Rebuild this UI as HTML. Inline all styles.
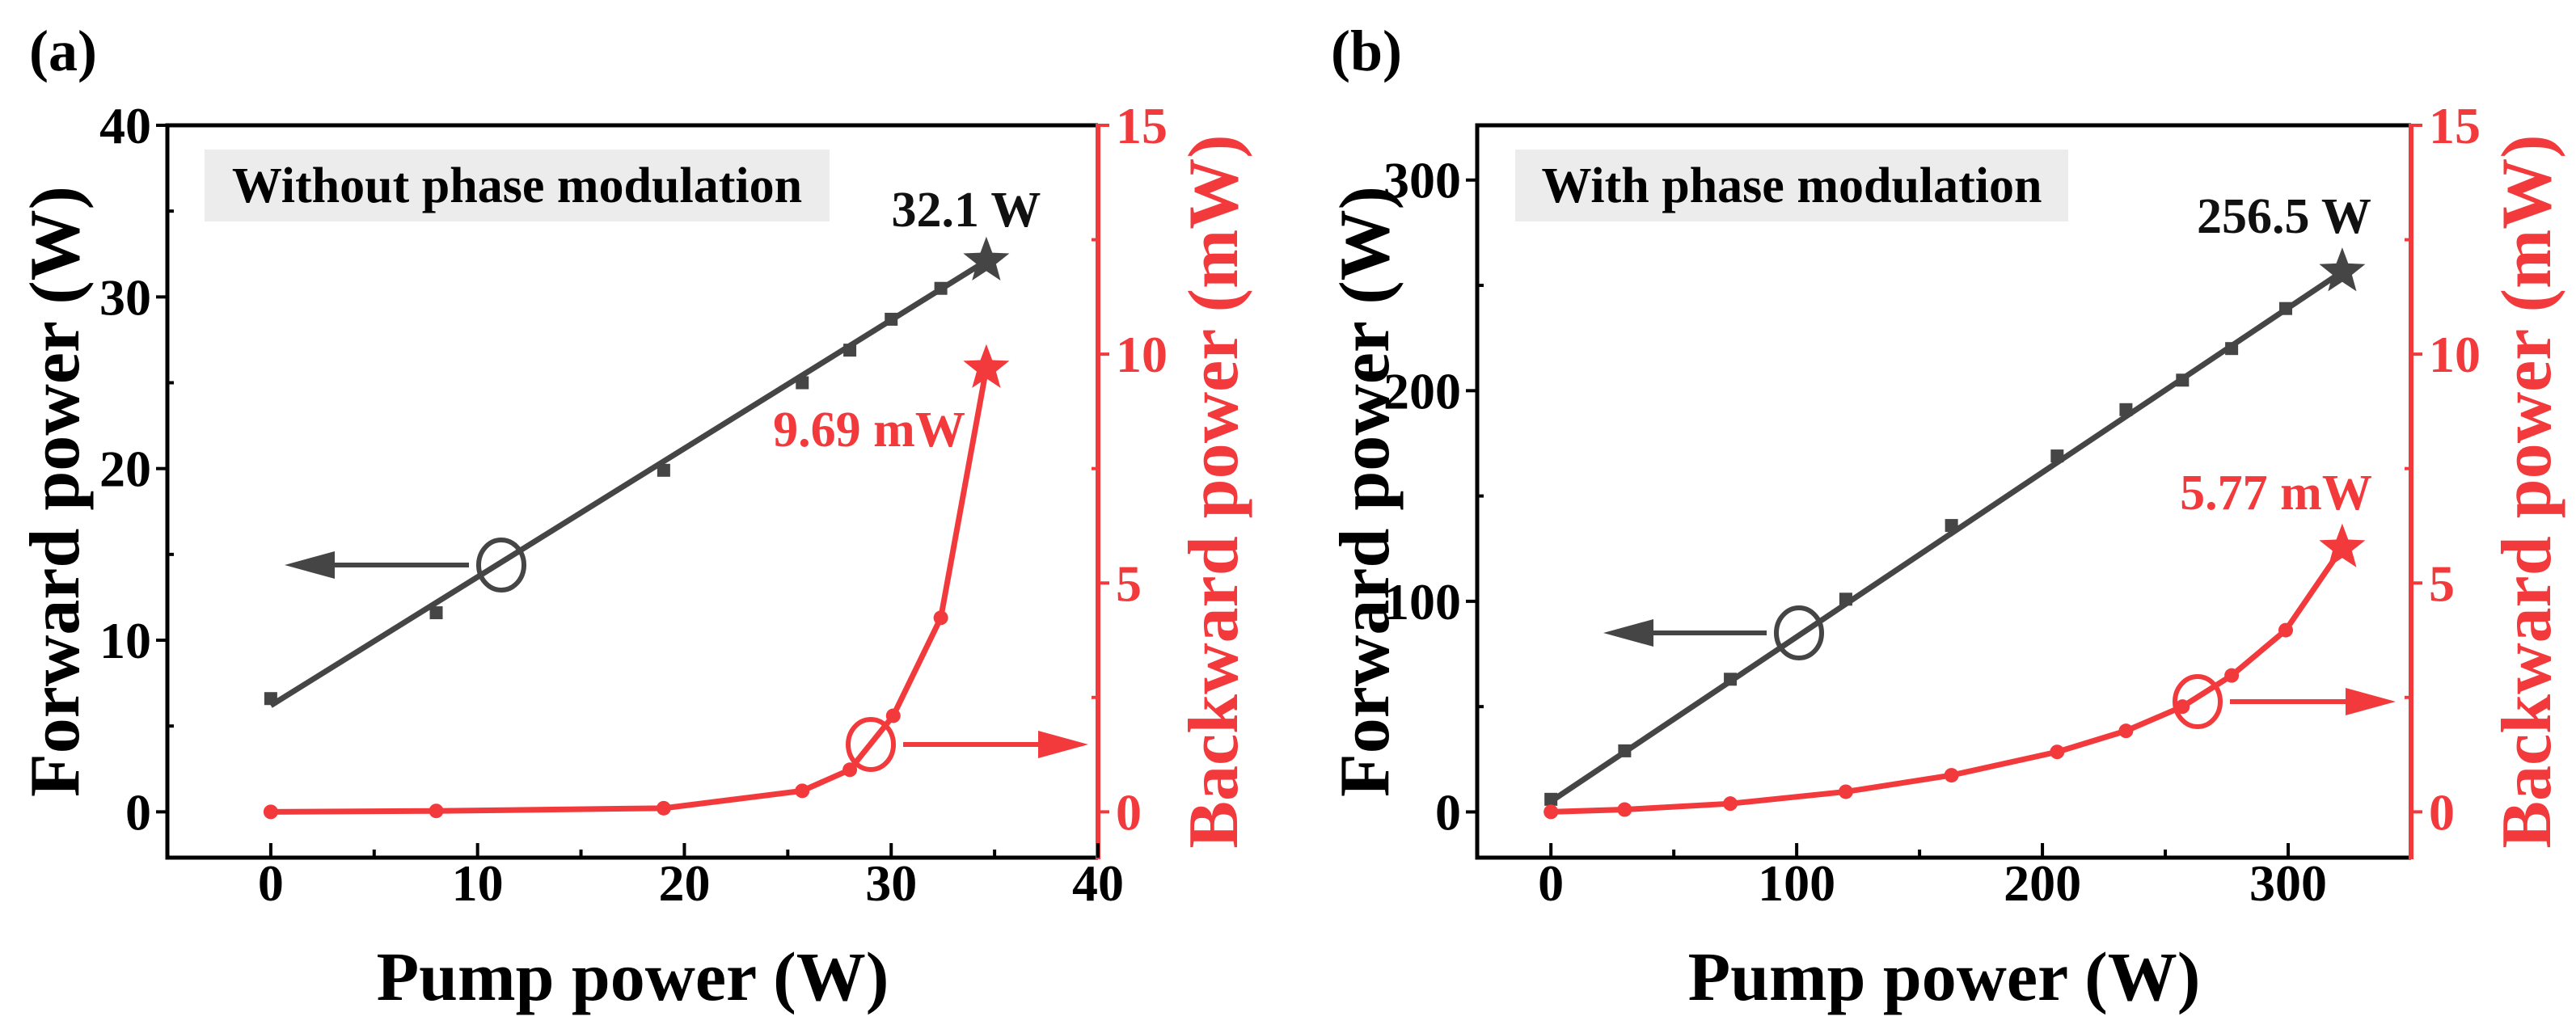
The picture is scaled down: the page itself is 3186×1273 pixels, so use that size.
<!DOCTYPE html>
<html><head><meta charset="utf-8"><style>
html,body{margin:0;padding:0;background:#fff;}
svg{display:block;}
svg text{font-family:"Liberation Serif","Times New Roman",serif;font-weight:bold;}
</style></head><body>
<svg id="fig" width="3186" height="1273" viewBox="0 0 3186 1273"></svg>
<script>
// Panel (a) data
const aPump = [0, 8, 19, 25.7, 28, 30, 32.4];
const aForward = [6.6, 11.6, 19.9, 25.0, 26.9, 28.7, 30.5];
const aBackPump = [0, 8, 19, 25.7, 28, 30.1, 32.4];
const aBackward = [0.0, 0.02, 0.08, 0.46, 0.92, 2.1, 4.24];
const aStarPump = 34.6, aStarForward = 32.1, aStarBackward = 9.69;
// Panel (b) data
const bPump = [0, 30, 73, 120, 163, 206, 234, 257, 277, 299];
const bForward = [6, 29, 63, 101, 136, 169, 191, 205, 220, 239];
const bBackward = [0.0, 0.05, 0.18, 0.44, 0.8, 1.31, 1.77, 2.3, 2.98, 3.97];
const bStarPump = 322, bStarForward = 256.5, bStarBackward = 5.77;
const aXTicks = [0, 10, 20, 30, 40];
const aYTicks = [0, 10, 20, 30, 40];
const bXTicks = [0, 100, 200, 300];
const bYTicks = [0, 100, 200, 300];
const rTicks = [0, 5, 10, 15];

const NS = "http://www.w3.org/2000/svg";
const svg = document.getElementById('fig');
const RED = "#f23a3c", BLK = "#454545";
const FONT = '"Liberation Serif", "Times New Roman", serif';
function el(tag, attrs, parent, text) {
  const e = document.createElementNS(NS, tag);
  for (const k in attrs) e.setAttribute(k, attrs[k]);
  if (tag === 'text') { e.setAttribute('font-family', FONT); e.setAttribute('font-weight', 'bold'); }
  if (text !== undefined) e.textContent = text;
  (parent || svg).appendChild(e);
  return e;
}
function starPts(cx, cy, R) {
  const r = R * 0.42; let p = [];
  for (let i = 0; i < 10; i++) {
    const ang = -Math.PI / 2 + i * Math.PI / 5, rr = i % 2 ? r : R;
    p.push((cx + rr * Math.cos(ang)).toFixed(1) + "," + (cy + rr * Math.sin(ang)).toFixed(1));
  }
  return p.join(" ");
}
function panel(cfg) {
  const g = el('g', {});
  
  
  const L = cfg.L, R = cfg.R, T = 155, B = 1061;
  const sx = v => L + (v - cfg.xMin) / (cfg.xMax - cfg.xMin) * (R - L);
  const sy = v => B - (v - cfg.yMin) / (cfg.yMax - cfg.yMin) * (B - T);
  const sr = v => B - (v - (-1)) / 16 * (B - T);
  const bx = el('rect', {x: cfg.box[0], y: 185, width: cfg.box[1] - cfg.box[0], height: 89, fill: "#ececec"}, g);
  
  
  const bt = el('text', {x: (cfg.box[0] + cfg.box[1]) / 2, y: 250, 'font-size': 62, 'text-anchor': 'middle', fill: '#000'}, g, cfg.boxText);
  
  
  const ax = el('path', {d: `M${R},${T} L${L},${T} L${L},${B} L${R},${B}`, fill: 'none', stroke: '#000', 'stroke-width': 5}, g);
  
  
  const ra = el('line', {x1: R, y1: T - 2, x2: R, y2: B + 2, stroke: RED, 'stroke-width': 6}, g);
  
  
  cfg.xTicks.forEach(v => {
    el('line', {x1: sx(v), y1: B, x2: sx(v), y2: B - 18, stroke: '#000', 'stroke-width': 4}, g);
    const m = v + (cfg.xTicks[1] - cfg.xTicks[0]) / 2;
    if (m < cfg.xMax) el('line', {x1: sx(m), y1: B, x2: sx(m), y2: B - 10, stroke: '#000', 'stroke-width': 4}, g);
    const t = el('text', {x: sx(v), y: B + 53, 'font-size': 64, 'text-anchor': 'middle'}, g, v);
    
    
  });
  cfg.yTicks.forEach(v => {
    el('line', {x1: L, y1: sy(v), x2: L - 14, y2: sy(v), stroke: '#000', 'stroke-width': 4}, g);
    const m = v + (cfg.yTicks[1] - cfg.yTicks[0]) / 2;
    if (m < cfg.yMax) el('line', {x1: L, y1: sy(m), x2: L + 8, y2: sy(m), stroke: '#000', 'stroke-width': 4}, g);
    const t = el('text', {x: L - 20, y: sy(v) + 22, 'font-size': 64, 'text-anchor': 'end'}, g, v);
    
    
  });
  rTicks.forEach(v => {
    el('line', {x1: R, y1: sr(v), x2: R + 14, y2: sr(v), stroke: RED, 'stroke-width': 4}, g);
    if (v + 2.5 < 15) el('line', {x1: R, y1: sr(v + 2.5), x2: R - 8, y2: sr(v + 2.5), stroke: RED, 'stroke-width': 4}, g);
    const t = el('text', {x: R + 22, y: sr(v) + 22, 'font-size': 64, fill: RED}, g, v);
    
    
  });
  const xt = el('text', {x: (L + R) / 2, y: 1237, 'font-size': 86, 'text-anchor': 'middle'}, g, 'Pump power (W)');
  
  
  const yl = el('text', {x: 0, y: 0, 'font-size': 88, 'text-anchor': 'middle', transform: `translate(${L - 110},608) rotate(-90)`}, g, 'Forward power (W)');
  
  
  const yr = el('text', {x: 0, y: 0, 'font-size': 88, 'text-anchor': 'middle', fill: RED, transform: `translate(${R + 172},608) rotate(-90)`}, g, 'Backward power (mW)');
  
  
  const pl = el('text', {x: cfg.lblX, y: 87, 'font-size': 72}, g, cfg.lbl);
  
  
  const fl = el('line', {x1: sx(0), y1: sy(cfg.fitY0), x2: sx(cfg.starX), y2: sy(cfg.starF), stroke: BLK, 'stroke-width': 7}, g);
  
  
  cfg.fx.forEach((x, i) => {
    const m = el('rect', {x: sx(x) - 8, y: sy(cfg.fy[i]) - 8, width: 16, height: 16, fill: BLK}, g);
    
    
  });
  const s1 = el('polygon', {points: starPts(sx(cfg.starX), sy(cfg.starF), 30), fill: BLK}, g);
  
  
  const bp = cfg.bx.map((x, i) => sx(x) + ',' + sr(cfg.by[i])).concat([sx(cfg.starX) + ',' + sr(cfg.starB)]);
  const bl = el('polyline', {points: bp.join(' '), fill: 'none', stroke: RED, 'stroke-width': 7}, g);
  
  
  cfg.bx.forEach((x, i) => {
    const c = el('circle', {cx: sx(x), cy: sr(cfg.by[i]), r: 9, fill: RED}, g);
    
    
  });
  const s2 = el('polygon', {points: starPts(sx(cfg.starX), sr(cfg.starB), 30), fill: RED}, g);
  
  
  const v1 = el('text', {x: cfg.fLbl[0], y: cfg.fLbl[1], 'font-size': 62, 'text-anchor': 'middle', fill: '#111'}, g, cfg.starF + ' W');
  
  
  const v2 = el('text', {x: cfg.bLbl[0], y: cfg.bLbl[1], 'font-size': 62, 'text-anchor': 'middle', fill: RED}, g, cfg.starB + ' mW');
  
  
  function indicator(cx, cy, x2, col, name) {
    const gg = el('g', {}, g);
    
    
    el('ellipse', {cx: cx, cy: cy, rx: 28, ry: 31, fill: 'none', stroke: col, 'stroke-width': 6}, gg);
    const dir = x2 < cx ? -1 : 1;
    const x1 = cx + dir * 40;
    el('line', {x1: x1, y1: cy, x2: x2 - dir * 50, y2: cy, stroke: col, 'stroke-width': 6}, gg);
    el('polygon', {points: `${x2},${cy} ${x2 - dir * 62},${cy - 17} ${x2 - dir * 62},${cy + 17}`, fill: col}, gg);
  }
  indicator(cfg.ind1[0], cfg.ind1[1], cfg.ind1[2], BLK, 'forward-axis-indicator');
  indicator(cfg.ind2[0], cfg.ind2[1], cfg.ind2[2], RED, 'backward-axis-indicator');
}
panel({name: 'panel-a', L: 207, R: 1358, xMin: -5, xMax: 40, yMin: -2.667, yMax: 40,
  xTicks: aXTicks, yTicks: aYTicks, fx: aPump, fy: aForward, bx: aBackPump, by: aBackward,
  starX: aStarPump, starF: aStarForward, starB: aStarBackward, fitY0: 6.2,
  box: [253, 1026], boxText: 'Without phase modulation', lbl: '(a)', lblX: 36,
  fLbl: [1195, 280], bLbl: [1075, 552], ind1: [620, 699, 352], ind2: [1077, 921, 1346]});
panel({name: 'panel-b', L: 1827, R: 2982, xMin: -30, xMax: 350, yMin: -21.7, yMax: 326,
  xTicks: bXTicks, yTicks: bYTicks, fx: bPump, fy: bForward, bx: bPump, by: bBackward,
  starX: bStarPump, starF: bStarForward, starB: bStarBackward, fitY0: 5,
  box: [1874, 2558], boxText: 'With phase modulation', lbl: '(b)', lblX: 1646,
  fLbl: [2825, 288], bLbl: [2815, 630], ind1: [2225, 783, 1983], ind2: [2718, 868, 2963]});
</script>
</body></html>
